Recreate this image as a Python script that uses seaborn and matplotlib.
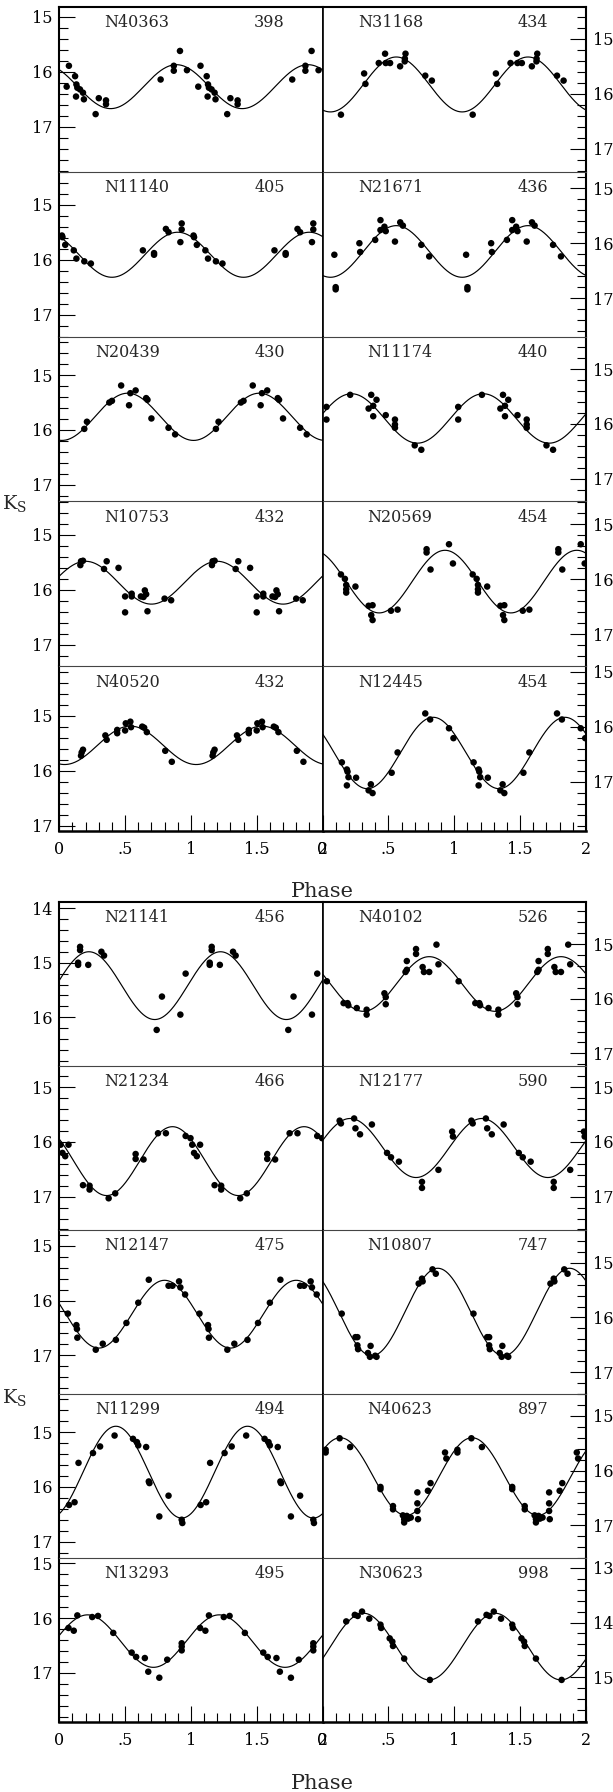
import numpy as np
import pandas as pd
import matplotlib
matplotlib.use("Agg")
import matplotlib.pyplot as plt
import seaborn as sns
from matplotlib.ticker import MultipleLocator, FuncFormatter

# ---------------- data ----------------
star_ids = ["N40363", "N11140", "N20439", "N10753", "N40520",
            "N31168", "N21671", "N11174", "N20569", "N12445",
            "N21141", "N21234", "N12147", "N11299", "N13293",
            "N40102", "N12177", "N10807", "N40623", "N30623"]
periods = ["398", "405", "430", "432", "432",
           "434", "436", "440", "454", "454",
           "456", "466", "475", "494", "495",
           "526", "590", "747", "897", "998"]

# fitted light-curve parameters: mean Ks, semi-amplitude, phase of minimum light
fit_mean = [16.27, 15.91, 15.76, 15.87, 15.54,
            15.83, 16.15, 15.90, 16.04, 16.48,
            15.42, 16.35, 16.25, 15.73, 16.42,
            15.73, 16.11, 15.90, 16.11, 14.44]
fit_amp = [0.40, 0.41, 0.43, 0.39, 0.35,
           0.50, 0.47, 0.45, 0.57, 0.65,
           0.62, 0.63, 0.62, 0.84, 0.48,
           0.50, 0.54, 0.80, 0.71, 0.61]
fit_phmin = [0.39, 0.40, 0.02, 0.70, 0.04,
             0.06, 0.06, 0.72, 0.43, 0.34,
             0.725, 0.36, 0.30, 0.93, 0.715,
             0.31, 0.71, 0.375, 0.635, 0.81]

# bright edge (top) of each panel's Ks axis
ks_top = [14.82, 14.40, 14.30, 14.39, 14.10,
          14.42, 14.70, 14.41, 14.58, 14.90,
          13.89, 14.61, 14.71, 14.30, 14.90,
          14.23, 14.61, 14.40, 14.60, 12.82]

phase_N40363 = [0.056, 0.073, 0.12, 0.13, 0.137, 0.127, 0.157, 0.18, 0.187, 0.276, 0.30, 0.355, 0.355, 0.77, 0.87, 0.87, 0.917, 0.97]
ks_N40363 = [16.27, 15.89, 16.08, 16.23, 16.29, 16.45, 16.32, 16.38, 16.50, 16.77, 16.48, 16.52, 16.59, 16.14, 15.89, 15.98, 15.62, 15.97]

phase_N11140 = [0.02, 0.024, 0.045, 0.11, 0.13, 0.19, 0.24, 0.635, 0.72, 0.72, 0.81, 0.83, 0.92, 0.93, 0.93]
ks_N11140 = [15.56, 15.59, 15.73, 15.83, 15.98, 16.03, 16.07, 15.83, 15.88, 15.91, 15.44, 15.50, 15.68, 15.34, 15.45]

phase_N20439 = [0.19, 0.21, 0.38, 0.40, 0.47, 0.53, 0.54, 0.58, 0.66, 0.67, 0.70, 0.83, 0.88]
ks_N20439 = [15.98, 15.85, 15.50, 15.47, 15.19, 15.55, 15.33, 15.28, 15.42, 15.45, 15.79, 15.96, 16.08]

phase_N10753 = [0.16, 0.165, 0.18, 0.34, 0.36, 0.45, 0.50, 0.50, 0.55, 0.55, 0.62, 0.64, 0.65, 0.66, 0.67, 0.80, 0.85]
ks_N10753 = [15.55, 15.48, 15.47, 15.62, 15.48, 15.60, 16.12, 16.41, 16.07, 16.12, 16.12, 16.13, 16.01, 16.08, 16.39, 16.16, 16.19]

phase_N40520 = [0.165, 0.17, 0.18, 0.35, 0.36, 0.44, 0.44, 0.50, 0.505, 0.54, 0.545, 0.63, 0.645, 0.665, 0.805, 0.855]
ks_N40520 = [15.73, 15.67, 15.62, 15.36, 15.44, 15.32, 15.26, 15.27, 15.14, 15.11, 15.21, 15.20, 15.22, 15.30, 15.64, 15.84]

phase_N31168 = [0.14, 0.316, 0.326, 0.427, 0.475, 0.48, 0.513, 0.589, 0.624, 0.63, 0.625, 0.78, 0.83]
ks_N31168 = [16.38, 15.63, 15.82, 15.44, 15.27, 15.44, 15.44, 15.50, 15.41, 15.27, 15.36, 15.67, 15.76]

phase_N21671 = [0.09, 0.10, 0.10, 0.28, 0.286, 0.40, 0.44, 0.44, 0.47, 0.48, 0.55, 0.59, 0.61, 0.75, 0.81]
ks_N21671 = [16.21, 16.80, 16.84, 16.00, 16.16, 15.94, 15.58, 15.76, 15.70, 15.78, 15.97, 15.62, 15.68, 16.03, 16.24]

phase_N11174 = [0.03, 0.03, 0.21, 0.35, 0.37, 0.385, 0.385, 0.41, 0.48, 0.55, 0.55, 0.55, 0.70, 0.75]
ks_N11174 = [15.69, 15.92, 15.47, 15.72, 15.47, 15.67, 15.86, 15.56, 15.84, 15.92, 16.01, 16.07, 16.39, 16.47]

phase_N20569 = [0.14, 0.17, 0.18, 0.18, 0.18, 0.25, 0.35, 0.37, 0.38, 0.38, 0.52, 0.57, 0.79, 0.79, 0.82, 0.96, 0.99]
ks_N20569 = [15.91, 15.99, 16.10, 16.18, 16.24, 16.13, 16.48, 16.65, 16.47, 16.74, 16.57, 16.55, 15.45, 15.51, 15.82, 15.36, 15.71]

phase_N12445 = [0.147, 0.185, 0.19, 0.197, 0.185, 0.255, 0.35, 0.367, 0.38, 0.525, 0.57, 0.78, 0.817, 0.96, 0.994]
ks_N12445 = [16.65, 16.78, 16.82, 16.92, 17.07, 16.93, 17.16, 17.05, 17.21, 16.84, 16.47, 15.76, 15.87, 16.03, 16.21]

phase_N21141 = [0.143, 0.143, 0.158, 0.158, 0.22, 0.32, 0.34, 0.74, 0.78, 0.92, 0.96]
ks_N21141 = [15.00, 15.04, 14.71, 14.77, 15.04, 14.80, 14.87, 16.23, 15.62, 15.95, 15.20]

phase_N21234 = [0.01, 0.024, 0.045, 0.07, 0.18, 0.23, 0.23, 0.375, 0.425, 0.58, 0.58, 0.64, 0.75, 0.81, 0.96, 0.997]
ks_N21234 = [16.05, 16.20, 16.26, 16.05, 16.79, 16.80, 16.87, 17.03, 16.94, 16.22, 16.31, 16.32, 15.84, 15.84, 15.89, 15.93]

phase_N12147 = [0.065, 0.13, 0.134, 0.137, 0.277, 0.33, 0.43, 0.51, 0.60, 0.68, 0.83, 0.86, 0.91, 0.92, 0.956]
ks_N12147 = [16.24, 16.45, 16.52, 16.68, 16.90, 16.79, 16.72, 16.41, 16.04, 15.62, 15.73, 15.73, 15.65, 15.76, 15.89]

phase_N11299 = [0.074, 0.116, 0.146, 0.256, 0.31, 0.42, 0.56, 0.59, 0.60, 0.66, 0.68, 0.685, 0.76, 0.83, 0.93, 0.935]
ks_N11299 = [16.33, 16.28, 15.56, 15.38, 15.26, 15.06, 15.12, 15.18, 15.24, 15.27, 15.90, 15.93, 16.54, 16.16, 16.60, 16.66]

phase_N13293 = [0.07, 0.11, 0.137, 0.25, 0.294, 0.41, 0.55, 0.584, 0.65, 0.676, 0.76, 0.82, 0.93, 0.93, 0.93]
ks_N13293 = [16.18, 16.23, 15.95, 15.98, 15.96, 16.27, 16.63, 16.71, 16.73, 16.98, 17.09, 16.76, 16.46, 16.52, 16.59]

phase_N40102 = [0.033, 0.16, 0.19, 0.196, 0.26, 0.335, 0.335, 0.47, 0.48, 0.48, 0.63, 0.64, 0.64, 0.71, 0.71, 0.76, 0.77, 0.81, 0.865, 0.88]
ks_N40102 = [15.68, 16.08, 16.08, 16.12, 16.17, 16.20, 16.29, 15.90, 15.97, 16.10, 15.51, 15.47, 15.31, 15.09, 15.18, 15.42, 15.51, 15.51, 15.01, 15.37]

phase_N12177 = [0.13, 0.14, 0.24, 0.25, 0.285, 0.375, 0.49, 0.52, 0.58, 0.755, 0.755, 0.88, 0.984, 0.99]
ks_N12177 = [15.61, 15.66, 15.57, 15.75, 15.86, 15.68, 16.20, 16.28, 16.36, 16.73, 16.84, 16.51, 15.81, 15.90]

phase_N10807 = [0.146, 0.25, 0.265, 0.265, 0.27, 0.345, 0.36, 0.365, 0.40, 0.41, 0.73, 0.755, 0.76, 0.835, 0.86]
ks_N10807 = [15.93, 16.36, 16.36, 16.51, 16.58, 16.65, 16.72, 16.52, 16.70, 16.72, 15.38, 15.29, 15.34, 15.12, 15.20]

phase_N40623 = [0.024, 0.024, 0.13, 0.21, 0.44, 0.44, 0.535, 0.535, 0.61, 0.62, 0.62, 0.64, 0.65, 0.67, 0.72, 0.72, 0.72, 0.725, 0.80, 0.82, 0.93, 0.94]
ks_N40623 = [15.62, 15.67, 15.41, 15.57, 16.30, 16.34, 16.65, 16.71, 16.82, 16.89, 16.95, 16.83, 16.88, 16.86, 16.40, 16.60, 16.74, 16.89, 16.37, 16.23, 15.67, 15.78]

phase_N30623 = [0.18, 0.245, 0.267, 0.30, 0.355, 0.44, 0.445, 0.51, 0.53, 0.535, 0.62, 0.815]
ks_N30623 = [13.98, 13.86, 13.88, 13.80, 13.93, 14.04, 14.10, 14.29, 14.35, 14.43, 14.66, 15.05]

phases = [phase_N40363, phase_N11140, phase_N20439, phase_N10753, phase_N40520,
          phase_N31168, phase_N21671, phase_N11174, phase_N20569, phase_N12445,
          phase_N21141, phase_N21234, phase_N12147, phase_N11299, phase_N13293,
          phase_N40102, phase_N12177, phase_N10807, phase_N40623, phase_N30623]
mags = [ks_N40363, ks_N11140, ks_N20439, ks_N10753, ks_N40520,
        ks_N31168, ks_N21671, ks_N11174, ks_N20569, ks_N12445,
        ks_N21141, ks_N21234, ks_N12147, ks_N11299, ks_N13293,
        ks_N40102, ks_N12177, ks_N10807, ks_N40623, ks_N30623]

# ---------------- style ----------------
sns.set_style("ticks")
plt.rcParams['font.family'] = ['DejaVu Serif', 'DejaVu Sans']
plt.rcParams['mathtext.fontset'] = 'dejavuserif'

W, H = 613, 1792
fig = plt.figure(figsize=(W / 100, H / 100), dpi=100)

XL, XM, XR = 59.3, 322.5, 586.0
groups = [(7.0, 831.0), (902.0, 1722.0)]
name_a, name_b = 0.137, 0.170
name_x = [name_b, name_b, name_a, name_b, name_a,
          name_a, name_a, name_b, name_b, name_a,
          name_b, name_b, name_b, name_a, name_b,
          name_a, name_a, name_b, name_b, name_a]

xlabels = {0.0: "0", 0.5: ".5", 1.0: "1", 1.5: "1.5", 2.0: "2"}
fmt = FuncFormatter(lambda v, p: xlabels.get(round(v, 2), ""))
grid = np.linspace(0, 2, 600)

FS = 11.5
for g, (gt, gb) in enumerate(groups):
    h = (gb - gt) / 5.0
    for row in range(5):
        for col in range(2):
            i = g * 10 + col * 5 + row
            top_px = gt + row * h
            x0 = XL if col == 0 else XM
            w = (XM - XL) if col == 0 else (XR - XM)
            ax = fig.add_axes([x0 / W, 1 - (top_px + h) / H, w / W, h / H])

            ph = np.asarray(phases[i])
            mg = np.asarray(mags[i])
            df = pd.DataFrame({"phase": np.concatenate([ph, ph + 1]),
                               "Ks": np.concatenate([mg, mg])})
            curve = pd.DataFrame({"phase": grid,
                                  "Ks": fit_mean[i] + fit_amp[i] * np.cos(2 * np.pi * (grid - fit_phmin[i]))})
            sns.lineplot(data=curve, x="phase", y="Ks", ax=ax, color="black",
                         lw=0.85, sort=False, legend=False)
            sns.scatterplot(data=df, x="phase", y="Ks", ax=ax, color="black",
                            s=22, edgecolor="none", linewidth=0, legend=False, zorder=3)
            ax.set_xlim(0, 2)
            ax.set_ylim(ks_top[i] + 3.0, ks_top[i])
            ax.set_xlabel("")
            ax.set_ylabel("")

            ax.yaxis.set_major_locator(MultipleLocator(1))
            ax.yaxis.set_minor_locator(MultipleLocator(0.2))
            ax.xaxis.set_major_locator(MultipleLocator(0.5))
            ax.xaxis.set_minor_locator(MultipleLocator(0.1))
            ax.xaxis.set_major_formatter(fmt)
            ax.yaxis.set_major_formatter(FuncFormatter(lambda v, p: "%d" % round(v)))
            ax.tick_params(which="both", direction="in", width=0.8, labelsize=FS,
                           colors="black")
            ax.tick_params(which="major", length=11.5)
            ax.tick_params(which="minor", length=6.5)
            if col == 0:
                ax.tick_params(axis="y", which="both", left=True, right=False,
                               labelleft=True, labelright=False, pad=5)
            else:
                ax.tick_params(axis="y", which="both", left=False, right=True,
                               labelleft=False, labelright=True, pad=5)
            last = (row == 4)
            ax.tick_params(axis="x", which="both", bottom=last, top=False,
                           labelbottom=last, labeltop=False, pad=7)

            for s in ax.spines.values():
                s.set_color("black")
            ax.spines["left"].set_linewidth(1.5 if col == 0 else 1.2)
            ax.spines["right"].set_linewidth(1.5 if col == 1 else 1.2)
            if row == 0:
                ax.spines["top"].set_linewidth(1.5)
            else:
                ax.spines["top"].set_linewidth(0.8)
                ax.spines["top"].set_color("#444444")
            if last:
                ax.spines["bottom"].set_linewidth(1.8)
            else:
                ax.spines["bottom"].set_visible(False)

            ax.text(name_x[i], 0.903, star_ids[i], transform=ax.transAxes,
                    ha="left", va="center", fontsize=FS)
            ax.text(0.857, 0.903, periods[i], transform=ax.transAxes,
                    ha="right", va="center", fontsize=FS)

# axis titles
fig.text(XM / W, 1 - 896.5 / H, "Phase", ha="center", va="baseline", fontsize=15)
fig.text(XM / W, 1 - 1788.5 / H, "Phase", ha="center", va="baseline", fontsize=15)
fig.text(15 / W, 1 - 503 / H, r"K$_\mathrm{S}$", ha="center", va="center", fontsize=14)
fig.text(15 / W, 1 - 1397 / H, r"K$_\mathrm{S}$", ha="center", va="center", fontsize=14)

fig.savefig("out.png", dpi=100)
